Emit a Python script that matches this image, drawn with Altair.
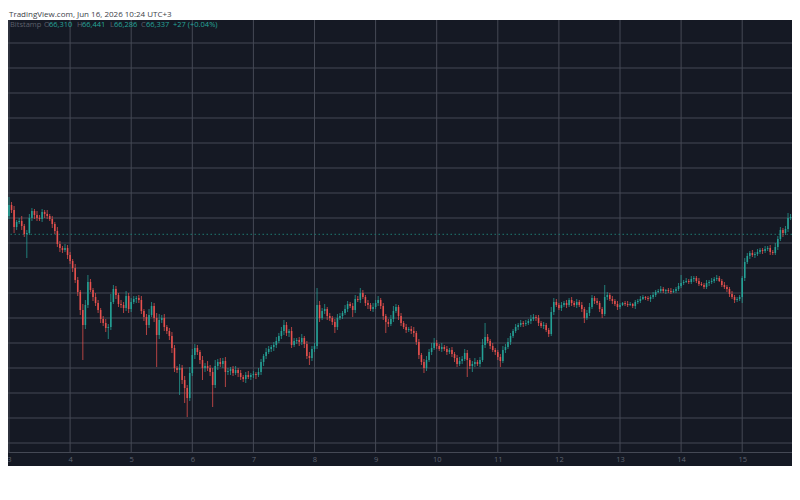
import altair as alt
import pandas as pd

# ---------------- text ----------------
title_text = "TradingView.com, Jun 16, 2026 10:24 UTC+3"
exchange = "Bitstamp"
last_open, last_high, last_low, last_close = 66310, 66441, 66286, 66337
last_change, last_change_pct = 27, 0.04

# ---------------- axis ticks ----------------
day_ticks = [3, 4, 5, 6, 7, 8, 9, 10, 11, 12, 13, 14, 15]
grid_prices = [64250, 64500, 64750, 65000, 65250, 65500, 65750, 66000, 66250,
               66500, 66750, 67000, 67250, 67500, 67750, 68000, 68250]
price_top, price_bottom, axis_price = 68480, 64020, 64160

# ---------------- hourly candles (closes per day) ----------------
first_open = 66500
close_d2 = [66550, 66500, 66520]
close_d3 = [66630, 66580, 66410, 66460, 66470, 66420, 66340, 66350, 66500, 66570, 66530, 66500,
            66490, 66560, 66540, 66520, 66490, 66440, 66370, 66240, 66200, 66180, 66200, 66130]
close_d4 = [66070, 66000, 65880, 65760, 65580, 65430, 65630, 65860, 65780, 65710, 65650, 65580,
            65490, 65450, 65400, 65410, 65660, 65790, 65730, 65640, 65630, 65600, 65720, 65590]
close_d5 = [65660, 65690, 65700, 65680, 65570, 65510, 65430, 65530, 65620, 65500, 65330, 65480,
            65500, 65410, 65370, 65320, 65200, 65000, 64980, 65000, 64880, 64800, 64700, 64950]
close_d6 = [65130, 65200, 65160, 65080, 65000, 65020, 65000, 64960, 64830, 65020, 65060, 65040,
            65070, 64960, 64970, 64990, 64950, 64980, 64950, 64910, 64890, 64930, 64910, 64930]
close_d7 = [64940, 64930, 64960, 65060, 65120, 65160, 65190, 65210, 65230, 65270, 65320, 65370,
            65430, 65350, 65370, 65230, 65270, 65280, 65260, 65300, 65240, 65120, 65100, 65190]
close_d8 = [65220, 65630, 65500, 65570, 65590, 65520, 65500, 65460, 65410, 65500, 65520, 65550,
            65590, 65640, 65620, 65580, 65690, 65680, 65750, 65710, 65650, 65630, 65590, 65610]
close_d9 = [65650, 65680, 65620, 65520, 65460, 65440, 65490, 65570, 65610, 65520, 65450, 65410,
            65380, 65390, 65370, 65350, 65260, 65130, 65060, 65000, 65080, 65160, 65200, 65250]
close_d10 = [65220, 65190, 65210, 65190, 65160, 65180, 65140, 65100, 65040, 65070, 65090, 65150,
             65080, 65020, 65040, 65060, 65040, 65080, 65230, 65310, 65270, 65220, 65180, 65160]
close_d11 = [65110, 65070, 65180, 65210, 65260, 65320, 65370, 65410, 65430, 65450, 65440, 65450,
             65470, 65490, 65510, 65500, 65450, 65420, 65430, 65380, 65340, 65560, 65660, 65630]
close_d12 = [65600, 65630, 65650, 65630, 65680, 65650, 65630, 65660, 65630, 65590, 65500, 65550,
             65610, 65700, 65670, 65650, 65590, 65540, 65710, 65730, 65690, 65670, 65640, 65610]
close_d13 = [65630, 65650, 65640, 65630, 65640, 65620, 65660, 65670, 65690, 65710, 65700, 65690,
             65710, 65730, 65760, 65770, 65790, 65770, 65780, 65770, 65760, 65770, 65790, 65820]
close_d14 = [65850, 65860, 65870, 65860, 65890, 65900, 65870, 65840, 65830, 65810, 65850, 65860,
             65870, 65890, 65900, 65870, 65830, 65810, 65790, 65740, 65710, 65680, 65690, 65710]
close_d15 = [65900, 66060, 66120, 66150, 66130, 66140, 66160, 66180, 66170, 66190, 66200, 66160,
             66150, 66210, 66290, 66380, 66350, 66390, 66500, 66510]

# upper / lower wick lengths (price units) per candle
up_wick = [30, 20, 40,
           80, 30, 40, 20, 30, 50, 20, 30, 40, 30, 20, 40, 30, 30, 20, 40, 20, 30, 20, 40, 30, 20, 40, 30,
           30, 20, 40, 30, 20, 60, 50, 70, 30, 20, 40, 30, 20, 30, 40, 30, 80, 40, 30, 20, 40, 30, 50, 30,
           40, 30, 20, 30, 40, 20, 30, 60, 40, 30, 50, 60, 30, 40, 20, 30, 40, 30, 20, 40, 30, 40, 30, 60,
           60, 40, 30, 20, 40, 30, 50, 30, 40, 60, 30, 40, 30, 40, 30, 20, 30, 40, 20, 30, 20, 30, 40, 20,
           30, 20, 40, 30, 20, 40, 30, 20, 30, 40, 30, 40, 50, 30, 20, 40, 30, 20, 30, 40, 20, 30, 40, 30,
           30, 170, 40, 30, 50, 20, 30, 20, 30, 40, 30, 20, 40, 30, 20, 30, 40, 30, 50, 30, 20, 30, 20, 40,
           30, 40, 20, 30, 20, 30, 40, 50, 30, 20, 30, 20, 30, 20, 30, 40, 20, 30, 20, 30, 40, 30, 50, 50,
           30, 20, 40, 20, 30, 20, 30, 20, 30, 40, 30, 40, 30, 20, 30, 40, 20, 30, 60, 140, 30, 20, 30, 20,
           20, 30, 40, 30, 40, 30, 20, 30, 20, 30, 20, 30, 20, 40, 30, 20, 30, 20, 30, 20, 20, 50, 40, 30,
           20, 30, 20, 30, 20, 30, 20, 30, 20, 30, 20, 30, 40, 30, 20, 30, 20, 20, 120, 30, 20, 30, 20, 30,
           20, 10, 20, 30, 20, 10, 20, 20, 30, 20, 10, 20, 20, 30, 20, 20, 30, 20, 10, 20, 30, 20, 20, 30,
           80, 20, 30, 20, 30, 20, 20, 30, 20, 20, 30, 20, 30, 20, 30, 20, 20, 30, 20, 20, 30, 20, 20, 20,
           20, 40, 30, 20, 30, 20, 30, 20, 20, 30, 20, 30, 20, 40, 30, 30, 20, 30, 50, 30]
dn_wick = [20, 30, 30,
           30, 30, 60, 30, 20, 40, 30, 240, 20, 30, 40, 30, 20, 30, 40, 30, 20, 40, 30, 30, 40, 30, 20, 40,
           30, 40, 30, 40, 50, 350, 40, 30, 20, 40, 30, 30, 40, 30, 40, 110, 30, 20, 40, 30, 30, 50, 30, 40,
           30, 20, 40, 30, 30, 40, 100, 30, 20, 40, 320, 40, 30, 40, 30, 40, 50, 40, 30, 250, 40, 150, 190, 30,
           30, 40, 30, 40, 120, 40, 30, 40, 220, 30, 40, 30, 40, 150, 30, 40, 30, 20, 40, 30, 30, 40, 20, 30,
           30, 40, 20, 30, 40, 30, 20, 30, 40, 30, 20, 30, 40, 30, 40, 30, 20, 30, 40, 30, 40, 30, 70, 30,
           30, 30, 40, 20, 30, 40, 30, 30, 60, 30, 20, 30, 20, 30, 20, 70, 30, 20, 30, 20, 30, 40, 20, 30,
           20, 30, 30, 40, 110, 30, 20, 30, 20, 40, 30, 20, 30, 20, 30, 40, 30, 40, 30, 50, 30, 20, 30, 20,
           30, 20, 30, 20, 30, 20, 30, 40, 30, 20, 30, 20, 170, 30, 60, 30, 20, 30, 20, 30, 20, 30, 20, 30,
           30, 60, 20, 30, 20, 30, 20, 20, 30, 20, 30, 20, 20, 30, 20, 30, 30, 20, 30, 20, 30, 20, 30, 20,
           20, 30, 20, 30, 20, 30, 20, 30, 20, 30, 50, 20, 30, 20, 30, 20, 30, 40, 20, 30, 20, 30, 20, 30,
           20, 10, 20, 20, 10, 20, 30, 20, 20, 10, 20, 20, 30, 20, 20, 10, 20, 20, 30, 20, 20, 10, 20, 20,
           20, 20, 10, 20, 20, 30, 20, 20, 10, 20, 20, 30, 20, 20, 20, 10, 20, 20, 30, 30, 20, 30, 20, 20,
           60, 30, 20, 30, 20, 30, 20, 20, 30, 20, 20, 30, 20, 20, 30, 20, 40, 20, 30, 20]

close = (close_d2 + close_d3 + close_d4 + close_d5 + close_d6 + close_d7 + close_d8 +
         close_d9 + close_d10 + close_d11 + close_d12 + close_d13 + close_d14 + close_d15)
assert len(close) == len(up_wick) == len(dn_wick)

opens = [first_open] + close[:-1]
times = pd.date_range("2026-06-02 21:00", periods=len(close), freq="h").strftime("%Y-%m-%dT%H:%M:%S")
df = pd.DataFrame({
    "t": times,
    "open": opens,
    "close": close,
    "high": [max(o, c) + u for o, c, u in zip(opens, close, up_wick)],
    "low": [min(o, c) - d for o, c, d in zip(opens, close, dn_wick)],
    "dir": ["up" if c >= o else "down" for o, c in zip(opens, close)],
})

# ---------------- style ----------------
BG = "#151924"
GRID = "#454955"
TEAL = "#26a69a"
RED = "#ef5350"
FONT = "Open Sans"

x_scale = alt.Scale(domain=[alt.DateTime(year=2026, month=6, date=2, hours=23, minutes=36, seconds=26),
                            alt.DateTime(year=2026, month=6, date=15, hours=19, minutes=33, seconds=38)],
                    padding=0)
y_scale = alt.Scale(domain=[price_bottom, price_top], zero=False, nice=False, padding=0)
x_axis = alt.Axis(values=[alt.DateTime(year=2026, month=6, date=d) for d in day_ticks],
                  format="%-d", grid=False, ticks=False, domain=True, domainColor=GRID,
                  domainWidth=1, labelColor="#5f6370", labelFontSize=7.5, labelFont=FONT,
                  labelPadding=3, labelFlush=False, labelOverlap=False, offset=-14, title=None)

hgrid = alt.Chart(pd.DataFrame({"p": grid_prices})).mark_rule(color=GRID, strokeWidth=1).encode(
    y=alt.Y("p:Q", scale=y_scale, axis=None))

vgrid_df = pd.DataFrame({"d": [f"2026-06-{d:02d}T00:00:00" for d in day_ticks],
                         "top": [price_top] * len(day_ticks), "bot": [axis_price] * len(day_ticks)})
vgrid = alt.Chart(vgrid_df).mark_rule(color=GRID, strokeWidth=1).encode(
    x=alt.X("d:T", scale=x_scale, axis=x_axis),
    y=alt.Y("top:Q", scale=y_scale, axis=None),
    y2="bot:Q")

lastline = alt.Chart(pd.DataFrame({"p": [last_close]})).mark_rule(
    color="#1f7a72", strokeWidth=1, strokeDash=[1.5, 2.5]).encode(
    y=alt.Y("p:Q", scale=y_scale, axis=None))

color = alt.Color("dir:N", scale=alt.Scale(domain=["up", "down"], range=[TEAL, RED]), legend=None)
base = alt.Chart(df)
wicks = base.mark_rule(strokeWidth=0.8, clip=True, opacity=0.9).encode(
    x=alt.X("t:T", scale=x_scale, axis=x_axis),
    y=alt.Y("low:Q", scale=y_scale, axis=None), y2="high:Q", color=color)
bodies = base.mark_bar(size=1.6, clip=True, opacity=0.9).encode(
    x=alt.X("t:T", scale=x_scale, axis=x_axis),
    y=alt.Y("open:Q", scale=y_scale, axis=None), y2="close:Q", color=color)

GRAY = "#5d606b"
def label(text, col, xpx, ypx=5, size=7.5):
    return alt.Chart(pd.DataFrame({"s": [text]})).mark_text(
        align="left", baseline="middle", fontSize=size, font=FONT, color=col).encode(
        text="s:N", x=alt.value(xpx), y=alt.value(ypx))

title = alt.Chart(pd.DataFrame({"s": [title_text]})).mark_text(
    align="left", baseline="alphabetic", fontSize=8, font=FONT, color="#3b3e48").encode(
    text="s:N", x=alt.value(1), y=alt.value(-3))

legend = [
    label(exchange, GRAY, 2),
    label("O", GRAY, 36), label(f"{last_open:,}", TEAL, 41),
    label("H", GRAY, 69), label(f"{last_high:,}", TEAL, 74),
    label("L", GRAY, 102), label(f"{last_low:,}", TEAL, 106),
    label("C", GRAY, 133), label(f"{last_close:,}", TEAL, 138),
    label(f"+{last_change} (+{last_change_pct:.2f}%)", TEAL, 165),
]

chart = alt.layer(hgrid, vgrid, lastline, wicks, bodies, title, *legend).properties(
    width=784, height=446,
    autosize=alt.AutoSizeParams(type="none"),
    padding={"left": 0, "top": 12, "right": 0, "bottom": 0},
    background="white",
).configure_view(fill=BG, stroke=None)

chart.save("out.html", embed_options={"renderer": "svg", "actions": False})
